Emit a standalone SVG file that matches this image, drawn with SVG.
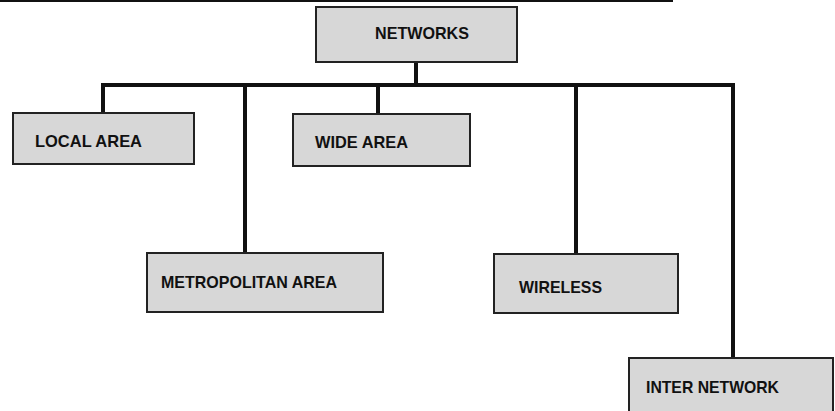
<svg xmlns="http://www.w3.org/2000/svg" width="835" height="411" viewBox="0 0 835 411">
<style>
.box{fill:#d7d7d7;stroke:#222;stroke-width:2}
.lbl{font-family:"Liberation Sans",Arial,sans-serif;font-weight:bold;font-size:17px;fill:#111}
.ln{stroke:#111;stroke-width:4;fill:none}
</style>
<rect width="835" height="411" fill="#fff"/>
<line x1="0" y1="1" x2="673" y2="1" stroke="#111" stroke-width="2"/>
<g id="connectors">
<line class="ln" x1="416" y1="62" x2="416" y2="85"/>
<line class="ln" x1="101" y1="85" x2="735" y2="85"/>
<line class="ln" x1="103" y1="83" x2="103" y2="114"/>
<line class="ln" x1="245" y1="83" x2="245" y2="254"/>
<line class="ln" x1="378" y1="83" x2="378" y2="115"/>
<line class="ln" x1="576" y1="83" x2="576" y2="255"/>
<line class="ln" x1="733" y1="83" x2="733" y2="359"/>
</g>
<g id="networks">
<rect class="box" x="316" y="7" width="201" height="55"/>
<text class="lbl" x="375" y="39" textLength="94" lengthAdjust="spacingAndGlyphs">NETWORKS</text>
</g>
<g id="local-area">
<rect class="box" x="13" y="113" width="181" height="51"/>
<text class="lbl" x="35" y="147" textLength="107" lengthAdjust="spacingAndGlyphs">LOCAL AREA</text>
</g>
<g id="wide-area">
<rect class="box" x="293" y="114" width="177" height="52"/>
<text class="lbl" x="315" y="148" textLength="93" lengthAdjust="spacingAndGlyphs">WIDE AREA</text>
</g>
<g id="metropolitan-area">
<rect class="box" x="147" y="253" width="236" height="59"/>
<text class="lbl" x="161" y="288" textLength="176" lengthAdjust="spacingAndGlyphs">METROPOLITAN AREA</text>
</g>
<g id="wireless">
<rect class="box" x="494" y="254" width="184" height="59"/>
<text class="lbl" x="519" y="293" textLength="83" lengthAdjust="spacingAndGlyphs">WIRELESS</text>
</g>
<g id="inter-network">
<rect class="box" x="629" y="358" width="204" height="60"/>
<text class="lbl" x="646" y="393" textLength="133" lengthAdjust="spacingAndGlyphs">INTER NETWORK</text>
</g>
</svg>
